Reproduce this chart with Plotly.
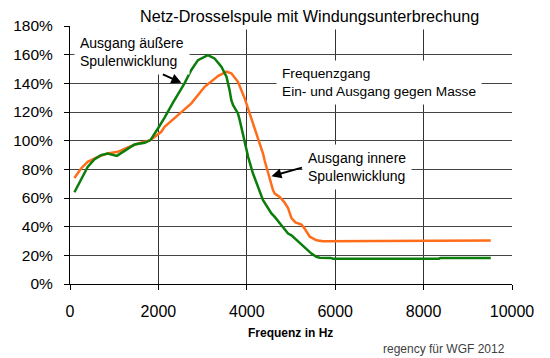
import plotly.graph_objects as go

# Frequency response data (Hz, % of input)
freq_outer = [100, 250, 400, 550, 700, 850, 1000, 1060, 1120, 1310, 1460, 1690, 1820, 1990, 2140,
              2330, 2590, 2745, 2895, 3120, 3270, 3425, 3540, 3610, 3650, 3690, 3800, 3840, 3914,
              3990, 4030, 4140, 4254, 4367, 4557, 4632, 4783, 4934, 5010, 5236, 5463, 5576, 5650,
              5900, 5950, 8350, 8380, 9520]
pct_outer = [64, 72.4, 81.7, 86.9, 89.9, 91, 90, 89.4, 90.6, 94.6, 97.4, 98.5, 100.4, 108.5, 116,
             126.5, 140, 149.3, 156.2, 159.7, 157.4, 151.6, 144.6, 135.3, 128.3, 124.8, 119, 114.3, 105,
             95.7, 88.7, 77.1, 67.8, 58.5, 49.2, 46.8, 41, 35.2, 34, 27.5, 21.2, 18.9, 18.3,
             18.2, 17.7, 17.7, 18.2, 18.2]

freq_inner = [100, 250, 400, 630, 850, 1080, 1310, 1540, 1820, 2065, 2140, 2367, 2442, 2745, 3046,
              3348, 3538, 3650, 3800, 3952, 4104, 4255, 4367, 4405, 4480, 4594, 4632, 4745, 4850,
              4934, 5010, 5100, 5236, 5300, 5425, 5500, 5576, 5727, 8370, 8400, 9520]
pct_inner = [74, 80.6, 85.2, 88.7, 91, 92.2, 95.3, 98, 100.4, 106.2, 109.7, 115.5, 117.8, 126, 137.6,
             145.1, 148.1, 147, 141.1, 129.5, 115.5, 102.7, 91, 86, 77.1, 65.4, 63.1, 60.8, 57,
             53, 46, 43, 41.5, 39, 33, 31.7, 30.5, 29.8, 29.8, 30.3, 30.3]

x_ticks = [0, 2000, 4000, 6000, 8000, 10000]
y_ticks = [0, 20, 40, 60, 80, 100, 120, 140, 160, 180]

FONT = "Liberation Sans, Arial, sans-serif"
W, H = 550, 358
L, R, T, B = 70, 38, 26, 74

fig = go.Figure()
fig.add_trace(go.Scatter(x=freq_inner, y=pct_inner, mode="lines",
                         line=dict(color="#ff6c1a", width=2.5), showlegend=False))
fig.add_trace(go.Scatter(x=freq_outer, y=pct_outer, mode="lines",
                         line=dict(color="#0b7d0b", width=2.5), showlegend=False))

fig.update_layout(
    width=W, height=H,
    margin=dict(l=L, r=R, t=T, b=B, pad=0),
    paper_bgcolor="white", plot_bgcolor="white",
    font=dict(family=FONT, color="black"),
    xaxis=dict(range=[0, 10000], tickvals=x_ticks, ticktext=[str(v) for v in x_ticks],
               showgrid=True, gridcolor="#333333", gridwidth=1,
               showline=True, linecolor="black", linewidth=1,
               ticks="outside", ticklen=5, tickcolor="black",
               tickfont=dict(size=16, family=FONT), ticklabelstandoff=8, zeroline=False),
    yaxis=dict(range=[0, 180], tickvals=y_ticks, ticktext=[f"{v}%" for v in y_ticks],
               showgrid=True, gridcolor="#444444", gridwidth=1,
               showline=True, linecolor="black", linewidth=1,
               ticks="outside", ticklen=5, tickcolor="black",
               tickfont=dict(size=15.5, family=FONT), ticklabelstandoff=8, zeroline=False),
)

pw = W - L - R
ph = H - T - B

def px2paper(px, py):
    return (px - L) / pw, (H - B - py) / ph

annots = []
# Title
tx, ty = px2paper(309.5, 16)
annots.append(dict(text="Netz-Drosselspule mit Windungsunterbrechung", x=tx, y=ty,
                   xref="paper", yref="paper", xanchor="center", yanchor="middle",
                   showarrow=False, bgcolor="white", borderpad=4,
                   font=dict(size=16.2, family=FONT, color="black")))
# Label outer winding
ax_, ay_ = px2paper(74, 52)
annots.append(dict(text="Ausgang äußere<br>Spulenwicklung", x=ax_, y=ay_,
                   xref="paper", yref="paper", xanchor="left", yanchor="middle", align="left",
                   showarrow=False, bgcolor="white", borderpad=5,
                   font=dict(size=14, family=FONT, color="black")))
# Label frequency response
fx, fy = px2paper(276, 83)
annots.append(dict(text="Frequenzgang<br>Ein- und Ausgang gegen Masse", x=fx, y=fy,
                   xref="paper", yref="paper", xanchor="left", yanchor="middle", align="left",
                   showarrow=False, bgcolor="white", borderpad=5,
                   font=dict(size=13.7, family=FONT, color="black")))
# Label inner winding
ix, iy = px2paper(302, 166.5)
annots.append(dict(text="Ausgang innere<br>Spulenwicklung", x=ix, y=iy,
                   xref="paper", yref="paper", xanchor="left", yanchor="middle", align="left",
                   showarrow=False, bgcolor="white", borderpad=5,
                   font=dict(size=14, family=FONT, color="black")))
# Arrows
annots.append(dict(text="", x=2519, y=140.4, xref="x", yref="y", showarrow=True,
                   ax=-20, ay=-9, arrowhead=2, arrowsize=1, arrowwidth=2, arrowcolor="black"))
annots.append(dict(text="", x=4557, y=75.2, xref="x", yref="y", showarrow=True,
                   ax=32, ay=-9, arrowhead=2, arrowsize=1, arrowwidth=2, arrowcolor="black"))
# Axis title
xtx, xty = px2paper(290.5, 333)
annots.append(dict(text="<b>Frequenz in Hz</b>", x=xtx, y=xty, xref="paper", yref="paper",
                   xanchor="center", yanchor="middle", showarrow=False,
                   font=dict(size=12, family=FONT, color="black")))
# Credit
cx, cy = px2paper(507, 349)
annots.append(dict(text="regency für WGF 2012", x=cx, y=cy, xref="paper", yref="paper",
                   xanchor="right", yanchor="middle", showarrow=False,
                   font=dict(size=12, family=FONT, color="#404040")))

fig.update_layout(annotations=annots)
fig.write_html("out.html", config={"displayModeBar": False},
               post_script="document.body.style.margin='0';")
